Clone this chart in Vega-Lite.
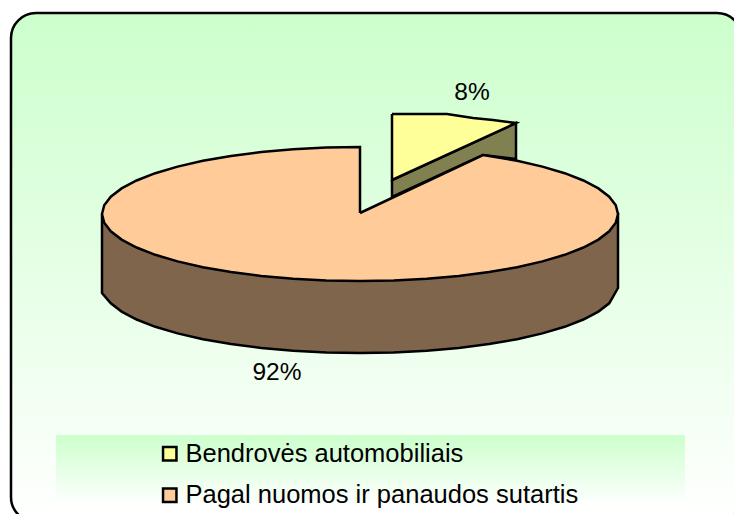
{"$schema":"https://vega.github.io/schema/vega-lite/v6.json","width":731,"height":509,"autosize":{"type":"none"},"padding":{"left":11,"top":13,"right":-8,"bottom":-8},"background":"white","view":{"fill":{"gradient":"linear","x1":0,"y1":0,"x2":0,"y2":1,"stops":[{"offset":0,"color":"#CCFFCC"},{"offset":1,"color":"#FFFFFF"}]},"stroke":"black","strokeWidth":2.5,"cornerRadius":25},"datasets":{"wall":[{"i":0,"x":102,"y":214},{"i":1,"x":102,"y":293},{"i":2,"x":110.8,"y":303.3},{"i":3,"x":121.6,"y":311.6},{"i":4,"x":136.6,"y":319.5},{"i":5,"x":155.3,"y":326.8},{"i":6,"x":177.6,"y":333.4},{"i":7,"x":202.9,"y":339.2},{"i":8,"x":231,"y":344},{"i":9,"x":261.3,"y":347.9},{"i":10,"x":293.2,"y":350.7},{"i":11,"x":326.3,"y":352.4},{"i":12,"x":360,"y":353},{"i":13,"x":393.7,"y":352.4},{"i":14,"x":426.8,"y":350.7},{"i":15,"x":458.7,"y":347.9},{"i":16,"x":489,"y":344},{"i":17,"x":517.1,"y":339.2},{"i":18,"x":542.4,"y":333.4},{"i":19,"x":564.7,"y":326.8},{"i":20,"x":583.4,"y":319.5},{"i":21,"x":598.4,"y":311.6},{"i":22,"x":609.2,"y":303.3},{"i":23,"x":618,"y":288},{"i":24,"x":618,"y":214},{"i":25,"x":360,"y":214},{"i":26,"x":102,"y":214}],"side":[{"i":0,"x":392,"y":180},{"i":1,"x":516,"y":123},{"i":2,"x":516,"y":159},{"i":3,"x":483,"y":155},{"i":4,"x":392,"y":197},{"i":5,"x":392,"y":180}],"top":[{"s":"Bendrovės automobiliais","i":0,"x":392,"y":114},{"s":"Bendrovės automobiliais","i":1,"x":447,"y":114},{"s":"Bendrovės automobiliais","i":2,"x":473,"y":118},{"s":"Bendrovės automobiliais","i":3,"x":493,"y":120},{"s":"Bendrovės automobiliais","i":4,"x":516,"y":123},{"s":"Bendrovės automobiliais","i":5,"x":392,"y":180},{"s":"Bendrovės automobiliais","i":6,"x":392,"y":114},{"s":"Pagal nuomos ir panaudos sutartis","i":0,"x":360,"y":213},{"s":"Pagal nuomos ir panaudos sutartis","i":1,"x":360,"y":147},{"s":"Pagal nuomos ir panaudos sutartis","i":2,"x":326.3,"y":147.6},{"s":"Pagal nuomos ir panaudos sutartis","i":3,"x":293.2,"y":149.3},{"s":"Pagal nuomos ir panaudos sutartis","i":4,"x":261.3,"y":152.1},{"s":"Pagal nuomos ir panaudos sutartis","i":5,"x":231,"y":156},{"s":"Pagal nuomos ir panaudos sutartis","i":6,"x":202.9,"y":160.8},{"s":"Pagal nuomos ir panaudos sutartis","i":7,"x":177.6,"y":166.6},{"s":"Pagal nuomos ir panaudos sutartis","i":8,"x":155.3,"y":173.2},{"s":"Pagal nuomos ir panaudos sutartis","i":9,"x":136.6,"y":180.5},{"s":"Pagal nuomos ir panaudos sutartis","i":10,"x":121.6,"y":188.4},{"s":"Pagal nuomos ir panaudos sutartis","i":11,"x":110.8,"y":196.7},{"s":"Pagal nuomos ir panaudos sutartis","i":12,"x":104.2,"y":205.3},{"s":"Pagal nuomos ir panaudos sutartis","i":13,"x":102,"y":214},{"s":"Pagal nuomos ir panaudos sutartis","i":14,"x":104.2,"y":222.7},{"s":"Pagal nuomos ir panaudos sutartis","i":15,"x":110.8,"y":231.3},{"s":"Pagal nuomos ir panaudos sutartis","i":16,"x":121.6,"y":239.6},{"s":"Pagal nuomos ir panaudos sutartis","i":17,"x":136.6,"y":247.5},{"s":"Pagal nuomos ir panaudos sutartis","i":18,"x":155.3,"y":254.8},{"s":"Pagal nuomos ir panaudos sutartis","i":19,"x":177.6,"y":261.4},{"s":"Pagal nuomos ir panaudos sutartis","i":20,"x":202.9,"y":267.2},{"s":"Pagal nuomos ir panaudos sutartis","i":21,"x":231,"y":272},{"s":"Pagal nuomos ir panaudos sutartis","i":22,"x":261.3,"y":275.9},{"s":"Pagal nuomos ir panaudos sutartis","i":23,"x":293.2,"y":278.7},{"s":"Pagal nuomos ir panaudos sutartis","i":24,"x":326.3,"y":280.4},{"s":"Pagal nuomos ir panaudos sutartis","i":25,"x":360,"y":281},{"s":"Pagal nuomos ir panaudos sutartis","i":26,"x":393.7,"y":280.4},{"s":"Pagal nuomos ir panaudos sutartis","i":27,"x":426.8,"y":278.7},{"s":"Pagal nuomos ir panaudos sutartis","i":28,"x":458.7,"y":275.9},{"s":"Pagal nuomos ir panaudos sutartis","i":29,"x":489,"y":272},{"s":"Pagal nuomos ir panaudos sutartis","i":30,"x":517.1,"y":267.2},{"s":"Pagal nuomos ir panaudos sutartis","i":31,"x":542.4,"y":261.4},{"s":"Pagal nuomos ir panaudos sutartis","i":32,"x":564.7,"y":254.8},{"s":"Pagal nuomos ir panaudos sutartis","i":33,"x":583.4,"y":247.5},{"s":"Pagal nuomos ir panaudos sutartis","i":34,"x":598.4,"y":239.6},{"s":"Pagal nuomos ir panaudos sutartis","i":35,"x":609.2,"y":231.3},{"s":"Pagal nuomos ir panaudos sutartis","i":36,"x":615.8,"y":222.7},{"s":"Pagal nuomos ir panaudos sutartis","i":37,"x":618,"y":214},{"s":"Pagal nuomos ir panaudos sutartis","i":38,"x":615.8,"y":205.3},{"s":"Pagal nuomos ir panaudos sutartis","i":39,"x":609.2,"y":196.7},{"s":"Pagal nuomos ir panaudos sutartis","i":40,"x":598.4,"y":188.4},{"s":"Pagal nuomos ir panaudos sutartis","i":41,"x":583.4,"y":180.5},{"s":"Pagal nuomos ir panaudos sutartis","i":42,"x":564.7,"y":173.2},{"s":"Pagal nuomos ir panaudos sutartis","i":43,"x":542.4,"y":166.6},{"s":"Pagal nuomos ir panaudos sutartis","i":44,"x":517.1,"y":160.8},{"s":"Pagal nuomos ir panaudos sutartis","i":45,"x":483,"y":155},{"s":"Pagal nuomos ir panaudos sutartis","i":46,"x":360,"y":213}]},"layer":[{"data":{"values":[{"x":56,"x2":685,"y":435,"y2":505}]},"mark":{"type":"rect","fill":{"gradient":"linear","x1":0,"y1":0,"x2":0,"y2":1,"stops":[{"offset":0,"color":"#CCFFCC"},{"offset":1,"color":"#FFFFFF"}]}},"encoding":{"x":{"field":"x","type":"quantitative","scale":{"domain":[11,742],"nice":false,"zero":false},"axis":null},"x2":{"field":"x2"},"y":{"field":"y","type":"quantitative","scale":{"domain":[522,13],"nice":false,"zero":false},"axis":null},"y2":{"field":"y2"}}},{"data":{"name":"wall"},"mark":{"type":"line","fill":"#80654D","stroke":"black","strokeWidth":2.5},"encoding":{"x":{"field":"x","type":"quantitative","scale":{"domain":[11,742],"nice":false,"zero":false},"axis":null},"y":{"field":"y","type":"quantitative","scale":{"domain":[522,13],"nice":false,"zero":false},"axis":null},"order":{"field":"i"}}},{"data":{"name":"side"},"mark":{"type":"line","fill":"#808050","stroke":"black","strokeWidth":2.5},"encoding":{"x":{"field":"x","type":"quantitative","scale":{"domain":[11,742],"nice":false,"zero":false},"axis":null},"y":{"field":"y","type":"quantitative","scale":{"domain":[522,13],"nice":false,"zero":false},"axis":null},"order":{"field":"i"}}},{"data":{"name":"top"},"mark":{"type":"line","stroke":"black","strokeWidth":2.5},"encoding":{"x":{"field":"x","type":"quantitative","scale":{"domain":[11,742],"nice":false,"zero":false},"axis":null},"y":{"field":"y","type":"quantitative","scale":{"domain":[522,13],"nice":false,"zero":false},"axis":null},"order":{"field":"i"},"detail":{"field":"s"},"fill":{"field":"s","type":"nominal","scale":{"domain":["Bendrovės automobiliais","Pagal nuomos ir panaudos sutartis"],"range":["#FFFF99","#FFCC99"]},"legend":{"title":null,"orient":"none","legendX":146,"legendY":428,"symbolType":"square","symbolSize":180,"symbolStrokeColor":"black","symbolStrokeWidth":2.5,"symbolOpacity":1,"labelFont":"Liberation Sans","labelFontSize":25.5,"labelColor":"black","labelLimit":500,"labelOffset":3,"rowPadding":14.5,"labelBaseline":"middle"}}}},{"data":{"values":[{"x":472,"y":92.5,"t":"8%"},{"x":277,"y":372.5,"t":"92%"}]},"mark":{"type":"text","font":"Liberation Sans","fontSize":24.5,"color":"black","align":"center","baseline":"middle"},"encoding":{"x":{"field":"x","type":"quantitative","scale":{"domain":[11,742],"nice":false,"zero":false},"axis":null},"y":{"field":"y","type":"quantitative","scale":{"domain":[522,13],"nice":false,"zero":false},"axis":null},"text":{"field":"t"}}}]}
